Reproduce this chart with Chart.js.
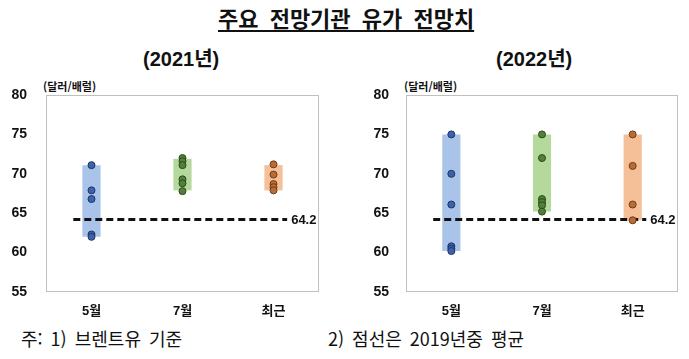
<!DOCTYPE html>
<html lang="ko">
<head>
<meta charset="utf-8">
<script src="https://cdn.jsdelivr.net/npm/chart.js@4.4.1/dist/chart.umd.min.js"></script>
<style>
  body {
    margin: 0;
    width: 689px;
    height: 359px;
    background: #fff;
    position: relative;
    overflow: hidden;
    font-family: "Noto Sans CJK KR", "Liberation Sans", sans-serif;
    color: #111;
  }
  .title {
    position: absolute;
    top: 1px;
    left: 218px;
    font-size: 22px;
    font-weight: 700;
    text-decoration: underline;
    text-underline-offset: 3px;
    word-spacing: 5px;
    white-space: nowrap;
  }
  .sub {
    position: absolute;
    top: 43px;
    font-size: 20px;
    font-weight: 700;
    font-family: "Liberation Sans", "Noto Sans CJK KR", sans-serif;
  }
  .unit {
    position: absolute;
    top: 78px;
    font-size: 11px;
    font-weight: 700;
  }
  .note {
    position: absolute;
    top: 325px;
    font-size: 18px;
    word-spacing: 3px;
    white-space: nowrap;
  }
  canvas {
    position: absolute;
    top: 70px;
  }
</style>
</head>
<body>
<div class="title">주요 전망기관 유가 전망치</div>
<div class="sub" style="left:143px">(2021년)</div>
<div class="sub" style="left:496px">(2022년)</div>
<div class="unit" style="left:43px">(달러/배럴)</div>
<div class="unit" style="left:404px">(달러/배럴)</div>
<canvas id="chart2021" width="345" height="250" style="left:0"></canvas>
<canvas id="chart2022" width="344" height="250" style="left:345px"></canvas>
<div class="note" style="left:21px">주: 1) 브렌트유 기준</div>
<div class="note" style="left:328px">2) 점선은 2019년중 평균</div>

<script>
const categories = ["5월", "7월", "최근"];
const yTicks = [55, 60, 65, 70, 75, 80];
const avg2019 = 64.2;

// range bars (low, high) per category
const low2021 = [62.0, 67.9, 67.9];
const high2021 = [71.1, 71.9, 71.1];
const low2022 = [60.2, 65.2, 64.1];
const high2022 = [75.0, 75.0, 75.0];

// individual forecasts
const may2021 = [71.1, 67.9, 66.8, 62.3, 62.0];
const jul2021 = [72.0, 71.6, 71.1, 69.3, 68.8, 67.8];
const recent2021 = [71.2, 69.9, 68.7, 68.3, 67.9];
const may2022 = [75.0, 70.0, 66.1, 60.8, 60.5, 60.2];
const jul2022 = [75.0, 72.0, 66.8, 66.4, 66.0, 65.2];
const recent2022 = [75.0, 71.0, 66.1, 64.1];

// dashed average line spans these category positions
const lineStart = -0.2;
const lineEnd = 2.15;

const barColors = ["#a9c4e8", "#b5d89c", "#f5bf98"];
const dotColors = ["#3d62ad", "#52803a", "#bb6c35"];
const dotBorders = ["#1f3466", "#2c4a1c", "#6e3c18"];

const tickFont = { family: "'Liberation Sans Narrow', 'Liberation Sans', 'Noto Sans CJK KR'", size: 14, weight: "bold" };

const framePlugin = {
  id: "frame",
  beforeDatasetsDraw(chart) {
    const { ctx, chartArea } = chart;
    ctx.save();
    ctx.strokeStyle = "#bfbfbf";
    ctx.lineWidth = 1;
    ctx.strokeRect(chartArea.left + 0.5, chartArea.top + 0.5,
      chartArea.right - chartArea.left - 1, chartArea.bottom - chartArea.top - 1);
    ctx.restore();
  },
  afterDraw(chart) {
    const { ctx } = chart;
    const x = chart.scales.xl.getPixelForValue(lineEnd);
    const y = chart.scales.y.getPixelForValue(avg2019);
    ctx.save();
    ctx.fillStyle = "#111";
    ctx.font = "bold 13px 'Liberation Sans Narrow', 'Liberation Sans', sans-serif";
    ctx.textBaseline = "middle";
    ctx.fillText(avg2019.toFixed(1), x + 4, y + 1);
    ctx.restore();
  }
};

function pointSet(values, idx) {
  return {
    type: "line",
    xAxisID: "xl",
    showLine: false,
    data: values.map(v => ({ x: idx, y: v })),
    pointRadius: 3.5,
    pointBackgroundColor: dotColors[idx],
    pointBorderColor: dotBorders[idx],
    pointBorderWidth: 1,
    order: 1
  };
}

function makeChart(id, low, high, points, yWidth, yPad, rightPad) {
  const ctx = document.getElementById(id);

  return new Chart(ctx, {
    type: "bar",
    data: {
      labels: categories,
      datasets: [
        {
          data: low.map((l, i) => [l, high[i]]),
          backgroundColor: barColors,
          grouped: false,
          barPercentage: 0.2,
          categoryPercentage: 1,
          order: 3
        },
        {
          type: "line",
          xAxisID: "xl",
          data: [{ x: lineStart, y: avg2019 }, { x: lineEnd, y: avg2019 }],
          borderColor: "#111",
          borderWidth: 3,
          borderDash: [7, 4],
          pointRadius: 0,
          order: 2
        },
        ...points.map((p, i) => pointSet(p, i))
      ]
    },
    options: {
      responsive: false,
      animation: false,
      layout: { padding: { left: 0, right: rightPad, top: 25, bottom: 0 } },
      plugins: {
        legend: { display: false },
        tooltip: { enabled: false }
      },
      scales: {
        x: {
          grid: { display: false },
          border: { display: false },
          ticks: { font: { ...tickFont, size: 13 }, color: "#111", padding: 4 },
          afterFit(scale) { scale.height = 28; }
        },
        xl: {
          type: "linear",
          display: false,
          offset: false,
          min: -0.5,
          max: 2.5
        },
        y: {
          min: yTicks[0],
          max: yTicks[yTicks.length - 1],
          grid: { display: false },
          border: { display: false },
          afterBuildTicks(scale) { scale.ticks = yTicks.map(v => ({ value: v })); },
          ticks: { font: tickFont, color: "#111", padding: yPad },
          afterFit(scale) { scale.width = yWidth; }
        }
      }
    },
    plugins: [framePlugin]
  });
}

makeChart("chart2021", low2021, high2021, [may2021, jul2021, recent2021], 46, 11, 26);
makeChart("chart2022", low2022, high2022, [may2022, jul2022, recent2022], 61, 9, 11);
</script>
</body>
</html>
